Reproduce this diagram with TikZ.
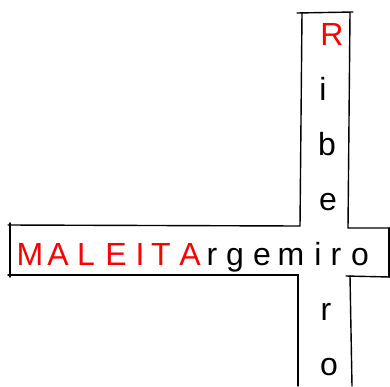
\documentclass[tikz,border=0pt]{standalone}
\usepackage{fontspec}
\setmainfont{Liberation Sans}
\usepackage{xcolor}
\usepackage{tikz}

\begin{document}
\begin{tikzpicture}[
    x=1pt, y=-1pt,
    chr/.style={inner sep=0pt, anchor=base, font=\fontsize{32}{38}\selectfont},
    hot/.style={chr, text=red},
    edge/.style={line width=1.4pt, line cap=round, line join=miter}
]
\useasboundingbox (0,0) rectangle (390,386);

% across: MALEITArgemiro
\node[hot] (h1)  at (30,265)  {M};
\node[hot] (h2)  at (58,265)  {A};
\node[hot] (h3)  at (86,265)  {L};
\node[hot] (h4)  at (116,265) {E};
\node[hot] (h5)  at (140,265) {I};
\node[hot] (h6)  at (161,265) {T};
\node[hot] (h7)  at (190,265) {A};
\node[chr] (h8)  at (212,265) {r};
\node[chr] (h9)  at (235,265) {g};
\node[chr] (h10) at (262,265) {e};
\node[chr] (h11) at (291,265) {m};
\node[chr] (h12) at (318,265) {i};
\node[chr] (h13) at (336,265) {r};
\node[chr] (h14) at (360,265) {o};

% down
\node[hot] (v1) at (332,45)  {R};
\node[chr] (v2) at (323,100) {i};
\node[chr] (v3) at (327,155) {b};
\node[chr] (v4) at (328,210) {e};
\node[chr] (v6) at (326,320) {r};
\node[chr] (v7) at (329,375) {o};

% outline of the cross
\draw[edge] (297,13) -- (353,12);
\draw[edge] (302,13) -- (300,226) -- (8,225);
\draw[edge] (350,13) -- (348,228) -- (390,228);
\draw[edge] (10,223) -- (10,277);
\draw[edge] (389,228) -- (389,277);
\draw[edge] (8,275) -- (298,275) -- (298,386);
\draw[edge] (390,277) -- (346,276);
\draw[edge] (350,276) -- (352,386);
\end{tikzpicture}
\end{document}
